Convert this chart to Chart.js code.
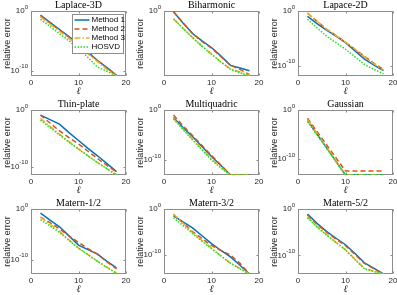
<!DOCTYPE html>
<html>
<head>
<meta charset="utf-8">
<script src="https://cdn.jsdelivr.net/npm/chart.js@4.4.1/dist/chart.umd.min.js"></script>
<style>
  body { margin: 0; background: #fff; overflow: hidden; }
  #grid { position: relative; width: 397px; height: 295px; overflow: hidden; }
  #grid canvas { position: absolute; }
</style>
</head>
<body>
<div id="grid"></div>
<script>
// truncation rank on the x axis, same for every panel
const ell = [2, 4, 6, 8, 10, 12, 14, 16, 18];
const seriesNames = ['Method 1', 'Method 2', 'Method 3', 'HOSVD'];
const panelTitles = ['Laplace-3D', 'Biharmonic', 'Lapace-2D', 'Thin-plate', 'Multiquadric', 'Gaussian',
    'Matern-1/2', 'Matern-3/2', 'Matern-5/2'];
const xTicks = [0, 10, 20];
const yTickExp = [-10, 0];
// log10 of the lower y limit of each panel (top is always 10^0)
const yMinExp = [-10.9, -9.8, -11.9, -11.5, -13, -13.3, -12.8, -14.1, -14];

// log10(relative error), rows: Method 1, Method 2, Method 3, HOSVD
const laplace3D = [
    [-0.7, -1.9, -3.1, -4.3, -5.5, -6.9, -8.3, -9.5, -10.8],
    [-0.8, -2.0, -3.2, -4.4, -5.6, -7.0, -8.3, -9.6, -10.8],
    [-1.0, -2.2, -3.4, -4.6, -5.9, -7.2, -8.5, -9.8, -10.9],
    [-1.4, -2.6, -3.8, -5.0, -6.3, -7.8, -9.4, -10.1, -10.9]
];
const biharmonic = [
    [-0.1, -1.8, -3.4, -4.5, -5.5, -6.8, -8.2, -8.6, -9.0],
    [-0.1, -1.8, -3.4, -4.6, -5.6, -6.9, -8.2, -8.8, -9.6],
    [-1.2, -2.6, -4.0, -5.3, -6.5, -7.7, -8.7, -9.2, -9.7],
    [-1.2, -2.6, -4.0, -5.3, -6.5, -7.7, -8.8, -9.3, -9.8]
];
const laplace2D = [
    [-1.0, -2.3, -3.5, -4.6, -5.8, -7.3, -8.8, -9.9, -10.9],
    [-0.4, -1.9, -3.3, -4.5, -5.7, -7.0, -8.3, -9.6, -10.7],
    [-0.4, -1.9, -3.3, -4.5, -5.7, -7.0, -8.4, -9.7, -10.8],
    [-1.5, -3.1, -4.6, -5.8, -7.0, -8.4, -9.8, -10.7, -11.5]
];
const thinPlate = [
    [-0.9, -1.7, -2.5, -4.0, -5.4, -6.8, -8.1, -9.5, -10.9],
    [-0.9, -2.3, -3.7, -4.9, -6.0, -7.3, -8.6, -9.8, -11.0],
    [-1.5, -2.9, -4.3, -5.6, -6.9, -8.1, -9.3, -10.4, -11.4],
    [-1.8, -3.1, -4.4, -5.7, -6.9, -8.1, -9.3, -10.4, -11.5]
];
const multiquadric = [
    [-1.5, -3.5, -5.3, -7.3, -9.3, -11.1, -13, -13, -13],
    [-1.0, -3.2, -5.1, -7.1, -9.1, -11.0, -13, -13, -13],
    [-1.7, -3.8, -5.8, -7.8, -9.8, -11.5, -13, -13, -13],
    [-1.8, -3.9, -6.0, -8.0, -10.0, -11.6, -13, -13, -13]
];
const gaussian = [
    [-2.1, -4.9, -7.7, -10.5, -13.3, -13.3, -13.3, -13.3, -13.3],
    [-1.7, -4.4, -7.1, -9.8, -12.5, -12.5, -12.5, -12.5, -12.5],
    [-2.0, -4.8, -7.6, -10.4, -13.3, -13.3, -13.3, -13.3, -13.3],
    [-2.4, -5.1, -7.8, -10.6, -13.3, -13.3, -13.3, -13.3, -13.3]
];
const matern12 = [
    [-0.8, -2.2, -3.5, -5.3, -7.1, -8.0, -8.9, -10.3, -11.6],
    [-1.6, -2.7, -3.9, -5.3, -6.6, -7.8, -8.9, -10.4, -11.8],
    [-1.6, -3.0, -4.4, -6.1, -7.7, -9.0, -10.3, -11.5, -12.6],
    [-2.1, -3.3, -4.6, -6.2, -7.7, -9.0, -10.3, -11.5, -12.7]
];
const matern32 = [
    [-1.5, -2.8, -4.1, -5.8, -7.5, -9.0, -10.4, -12.2, -14.1],
    [-1.2, -3.0, -4.9, -6.4, -7.9, -9.0, -10.0, -11.8, -14.1],
    [-1.1, -3.1, -5.1, -6.8, -8.5, -10.2, -11.7, -12.9, -14.1],
    [-1.9, -3.6, -5.3, -7.0, -8.6, -10.2, -11.8, -13.0, -14.1]
];
const matern52 = [
    [-1.1, -3.1, -4.8, -6.3, -7.7, -9.6, -11.6, -12.8, -14.0],
    [-1.3, -3.3, -5.0, -6.5, -7.9, -9.8, -11.7, -12.9, -14.0],
    [-1.7, -3.8, -5.5, -7.2, -8.8, -10.8, -12.8, -13.4, -14.0],
    [-1.9, -3.9, -5.6, -7.2, -8.8, -10.9, -12.9, -13.5, -14.0]
];
const panelData = [laplace3D, biharmonic, laplace2D, thinPlate, multiquadric, gaussian, matern12, matern32, matern52];

// line styles (MATLAB defaults)
const lineColors = ['#0072bd', '#d95319', '#edb120', '#22e022'];
const lineDash = [[], [5, 3], [6, 2, 1.5, 2], [1.5, 1.5]];

// subplot geometry
const colLeft = [31, 164, 298];
const rowTop = [11, 110, 209];
const plotW = 95, plotH = 65;
const yAxisW = 31, titleH = 12, xAxisH = 22, padRight = 8;

const sansFont = "'Liberation Sans', Arial, Helvetica, sans-serif";
const serifFont = "'Liberation Serif', 'Times New Roman', serif";
Chart.defaults.color = '#262626';
Chart.defaults.font.family = sansFont;

// box around the axes with small inward ticks, plus 10^k labels with raised exponents
const axesBox = {
    id: 'axesBox',
    beforeDatasetsDraw(chart) {
        const { ctx, chartArea: a, scales } = chart;
        const l = Math.round(a.left) + 0.5, t = Math.round(a.top) + 0.5;
        const r = Math.round(a.right) - 0.5, b = Math.round(a.bottom) - 0.5;
        ctx.save();
        ctx.strokeStyle = '#8c8c8c';
        ctx.lineWidth = 1;
        ctx.strokeRect(l, t, r - l, b - t);
        ctx.beginPath();
        scales.x.ticks.forEach(tk => {
            const px = Math.round(scales.x.getPixelForValue(tk.value)) + 0.5;
            ctx.moveTo(px, b); ctx.lineTo(px, b - 2);
            ctx.moveTo(px, t); ctx.lineTo(px, t + 2);
        });
        scales.y.ticks.forEach(tk => {
            const py = Math.round(scales.y.getPixelForValue(tk.value)) + 0.5;
            ctx.moveTo(l, py); ctx.lineTo(l + 2, py);
            ctx.moveTo(r, py); ctx.lineTo(r - 2, py);
        });
        ctx.stroke();

        ctx.fillStyle = '#262626';
        ctx.textAlign = 'right';
        ctx.textBaseline = 'middle';
        scales.y.ticks.forEach(tk => {
            const py = scales.y.getPixelForValue(tk.value);
            const expText = String(Math.round(Math.log10(tk.value)));
            const xr = a.left - 3;
            ctx.font = '6px ' + sansFont;
            const ew = ctx.measureText(expText).width;
            ctx.fillText(expText, xr, py - 4);
            ctx.font = '8px ' + sansFont;
            ctx.fillText('10', xr - ew, py);
        });
        ctx.restore();
    }
};

// legend drawn inside the first panel, top right, with a frame
const insideLegend = {
    id: 'insideLegend',
    afterDatasetsDraw(chart) {
        const { ctx, chartArea: a } = chart;
        const w = 51, h = 39;
        const x = Math.round(a.right) - 3 - w + 0.5, y = Math.round(a.top) + 3 + 0.5;
        ctx.save();
        ctx.fillStyle = '#fff';
        ctx.fillRect(x, y, w, h);
        ctx.strokeStyle = '#8c8c8c';
        ctx.lineWidth = 1;
        ctx.strokeRect(x, y, w, h);
        ctx.font = '8px ' + sansFont;
        ctx.textBaseline = 'middle';
        chart.data.datasets.forEach((ds, i) => {
            const cy = y + 5.5 + i * 9;
            ctx.strokeStyle = ds.borderColor;
            ctx.lineWidth = 1.5;
            ctx.setLineDash(ds.borderDash);
            ctx.beginPath();
            ctx.moveTo(x + 2, cy); ctx.lineTo(x + 17, cy);
            ctx.stroke();
            ctx.setLineDash([]);
            ctx.fillStyle = '#000';
            ctx.fillText(ds.label, x + 19, cy);
        });
        ctx.restore();
    }
};

function makePanel(p) {
    const col = p % 3, row = Math.floor(p / 3);
    const canvas = document.createElement('canvas');
    const cw = yAxisW + plotW + padRight, ch = titleH + plotH + xAxisH;
    canvas.width = cw; canvas.height = ch;
    canvas.style.left = (colLeft[col] - yAxisW) + 'px';
    canvas.style.top = (rowTop[row] - titleH) + 'px';
    document.getElementById('grid').appendChild(canvas);

    const minExp = yMinExp[p];
    const datasets = panelData[p].map((vals, i) => ({
        label: seriesNames[i],
        data: ell.map((x, j) => ({ x: x, y: Math.pow(10, vals[j]) })),
        borderColor: lineColors[i],
        borderDash: lineDash[i],
        borderWidth: 1.5,
        pointRadius: 0,
        tension: 0,
        fill: false,
        order: 3 - i // later series drawn on top, like MATLAB
    }));

    return new Chart(canvas, {
        type: 'line',
        data: { datasets: datasets },
        options: {
            responsive: false,
            animation: false,
            devicePixelRatio: 1,
            layout: { padding: { left: 0, right: padRight, top: 0, bottom: 0 } },
            plugins: {
                legend: { display: false },
                tooltip: { enabled: false },
                title: {
                    display: true,
                    fullSize: false,
                    text: panelTitles[p],
                    color: '#000',
                    font: { family: serifFont, size: 10, weight: 'normal', lineHeight: 1.2 },
                    padding: { top: 0, bottom: 0 }
                }
            },
            scales: {
                x: {
                    type: 'linear',
                    min: 0, max: 20,
                    afterBuildTicks: s => { s.ticks = xTicks.map(v => ({ value: v })); },
                    afterFit: s => { s.height = xAxisH; },
                    grid: { display: false, drawTicks: false },
                    border: { display: false },
                    ticks: { font: { size: 8 }, padding: 2, maxRotation: 0 },
                    title: {
                        display: true, text: 'ℓ',
                        font: { family: serifFont, style: 'italic', size: 10, lineHeight: 1.2 },
                        padding: { top: 0, bottom: 1 }
                    }
                },
                y: {
                    type: 'logarithmic',
                    bounds: 'data',
                    min: Math.pow(10, minExp), max: 1,
                    afterBuildTicks: s => {
                        s.ticks = yTickExp.filter(e => e >= minExp).map(e => ({ value: Math.pow(10, e) }));
                    },
                    afterFit: s => { s.width = yAxisW; },
                    grid: { display: false, drawTicks: false },
                    border: { display: false },
                    ticks: { display: false },
                    title: {
                        display: true, text: 'relative error',
                        font: { size: 9, lineHeight: 1.2 },
                        padding: { top: 2, bottom: 0 }
                    }
                }
            }
        },
        plugins: p === 0 ? [axesBox, insideLegend] : [axesBox]
    });
}

panelData.forEach((d, p) => makePanel(p));
</script>
</body>
</html>
